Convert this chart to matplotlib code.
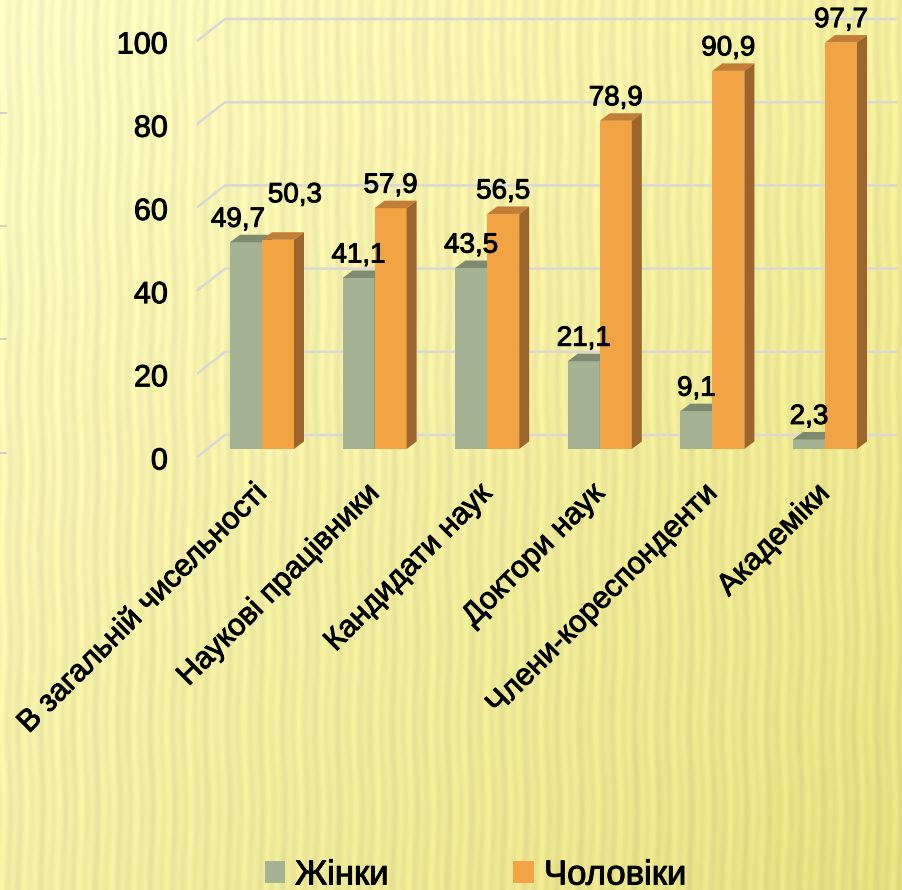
import numpy as np
import matplotlib
matplotlib.use("Agg")
import matplotlib.pyplot as plt
import matplotlib.patheffects as pe
from matplotlib.patches import Polygon, Patch
from matplotlib.lines import Line2D

plt.rcParams["font.family"] = ["Liberation Sans", "DejaVu Sans"]

# ---- data -------------------------------------------------------------
categories = ["В загальній чисельності", "Наукові працівники", "Кандидати наук",
              "Доктори наук", "Члени-кореспонденти", "Академіки"]
women = [49.7, 41.1, 43.5, 21.1, 9.1, 2.3]
men = [50.3, 57.9, 56.5, 78.9, 90.9, 97.7]
series_names = ["Жінки", "Чоловіки"]
y_ticks = [0, 20, 40, 60, 80, 100]

# ---- layout (pixel based) ---------------------------------------------
W, H, DPI = 903, 890, 100
PX_X = 112.6      # pixels per category step
PX_Y = 4.16       # pixels per percentage point
X0_PX = 262       # x of the first category centre
Y0_PX = 449       # y (from top) of the bar baseline


def dx(p):
    return p / PX_X


def dy(p):
    return p / PX_Y


BAR_W = dx(32)
DEPTH = (dx(10), dy(7.5))          # bar depth offset
FRONT = (dx(-10), dy(-8))          # front wall plane relative to bar fronts
BACK = (dx(18), dy(14))            # back wall plane relative to bar fronts
WALL_LEFT = dx(197 - X0_PX)        # left edge of the side wall (front)
WALL_RIGHT = dx(898 - X0_PX)

GREEN = "#a4b393"
GREEN_TOP = "#7f8b70"
GREEN_SIDE = "#6f7a60"
ORANGE = "#f2a344"
ORANGE_TOP = "#c27e36"
ORANGE_SIDE = "#9b652b"
GRID = "#d9d8d6"

# slightly heavier strokes for all text
BOLDER = [pe.withStroke(linewidth=0.7, foreground="black")]

fig = plt.figure(figsize=(W / DPI, H / DPI), dpi=DPI)

# ---- background: yellow gradient with soft vertical stripes ------------
bg = fig.add_axes([0, 0, 1, 1])
bg.axis("off")
yy, xx = np.mgrid[0:H, 0:W].astype(float)
u = (xx / (W - 1))[..., None]
v = (yy / (H - 1))[..., None]
tl = np.array([252, 250, 196])
tr = np.array([244, 239, 158])
bl = np.array([242, 238, 164])
br = np.array([230, 223, 128])
col = (1 - u) * (1 - v) * tl + u * (1 - v) * tr + (1 - u) * v * bl + u * v * br
wave = (np.sin(2 * np.pi * xx / 11.0 + 0.8 * np.sin(2 * np.pi * yy / 170.0))
        + 0.6 * np.sin(2 * np.pi * xx / 27.0 + 1.3))
col = col + (5.5 * wave)[..., None] * np.array([1.0, 1.0, 0.6])
bg.imshow(np.clip(col, 0, 255) / 255.0, aspect="auto", interpolation="bilinear")

# small marks on the left edge of the slide
for yp in (113, 226, 339, 453):
    fig.add_artist(Line2D([0, 6 / W], [1 - yp / H] * 2, color="#c9c9c9", lw=1.2))

# ---- main axes -------------------------------------------------------
ax = fig.add_axes([0, 0, 1, 1])
ax.set_facecolor("none")
ax.axis("off")
ax.set_xlim(-X0_PX / PX_X, (W - X0_PX) / PX_X)
ax.set_ylim((Y0_PX - H) / PX_Y, Y0_PX / PX_Y)

# walls: gridlines on side wall and back wall
for t in y_ticks:
    xs = [WALL_LEFT, WALL_LEFT + (BACK[0] - FRONT[0]), WALL_RIGHT]
    ys = [t + FRONT[1], t + BACK[1], t + BACK[1]]
    ax.plot(xs, ys, color=GRID, lw=1.8, zorder=1, solid_capstyle="butt")
    ax.text(dx(168 - X0_PX), t + FRONT[1] - dy(12.5), str(t),
            ha="right", va="baseline", fontsize=22, color="black",
            path_effects=BOLDER)

x = np.arange(len(categories))
xg = x - BAR_W / 2
xo = x + BAR_W / 2


def draw_bars(xc, vals, front, top, side, z):
    ax.bar(xc, vals, width=BAR_W, color=front, linewidth=0, zorder=z)
    for cx, val in zip(xc, vals):
        x0, x1 = cx - BAR_W / 2, cx + BAR_W / 2
        ax.add_patch(Polygon([(x0, val), (x1, val), (x1 + DEPTH[0], val + DEPTH[1]),
                              (x0 + DEPTH[0], val + DEPTH[1])],
                             closed=True, facecolor=top, edgecolor="none", zorder=z))
        ax.add_patch(Polygon([(x1, 0), (x1 + DEPTH[0], DEPTH[1]),
                              (x1 + DEPTH[0], val + DEPTH[1]), (x1, val)],
                             closed=True, facecolor=side, edgecolor="none", zorder=z))


draw_bars(xg, women, GREEN, GREEN_TOP, GREEN_SIDE, 2)
draw_bars(xo, men, ORANGE, ORANGE_TOP, ORANGE_SIDE, 3)


def fmt(val):
    return f"{val:.1f}".replace(".", ",")


# value labels (the first pair is nudged apart so they do not collide)
label_shift_women = [(dx(-8), 0)] + [(0, 0)] * 5
label_shift_men = [(dx(17), dy(22))] + [(0, 0)] * 5
for cx, val, (ox, oy) in zip(xg, women, label_shift_women):
    ax.text(cx + ox, val + dy(15.5) + oy, fmt(val), ha="center", va="baseline",
            fontsize=20, zorder=5, path_effects=BOLDER)
for cx, val, (ox, oy) in zip(xo, men, label_shift_men):
    ax.text(cx + ox, val + dy(15.5) + oy, fmt(val), ha="center", va="baseline",
            fontsize=20, zorder=5, path_effects=BOLDER)

# category labels
for cx, name in zip(x, categories):
    ax.text(cx - dx(11), dy(Y0_PX - 479), name, rotation=45, rotation_mode="anchor",
            ha="right", va="top", fontsize=22, path_effects=BOLDER)

# legend
handles = [Patch(facecolor=GREEN, edgecolor="none"),
           Patch(facecolor=ORANGE, edgecolor="none")]
leg = fig.legend(handles, series_names, loc="center",
                 bbox_to_anchor=(475.5 / W, 1 - 875 / H),
                 ncol=2, frameon=False, fontsize=25, handlelength=0.58,
                 handleheight=0.58, handletextpad=0.3, columnspacing=3.6,
                 borderpad=0, borderaxespad=0)
for txt in leg.get_texts():
    txt.set_path_effects(BOLDER)

fig.savefig("out.png", dpi=DPI)
